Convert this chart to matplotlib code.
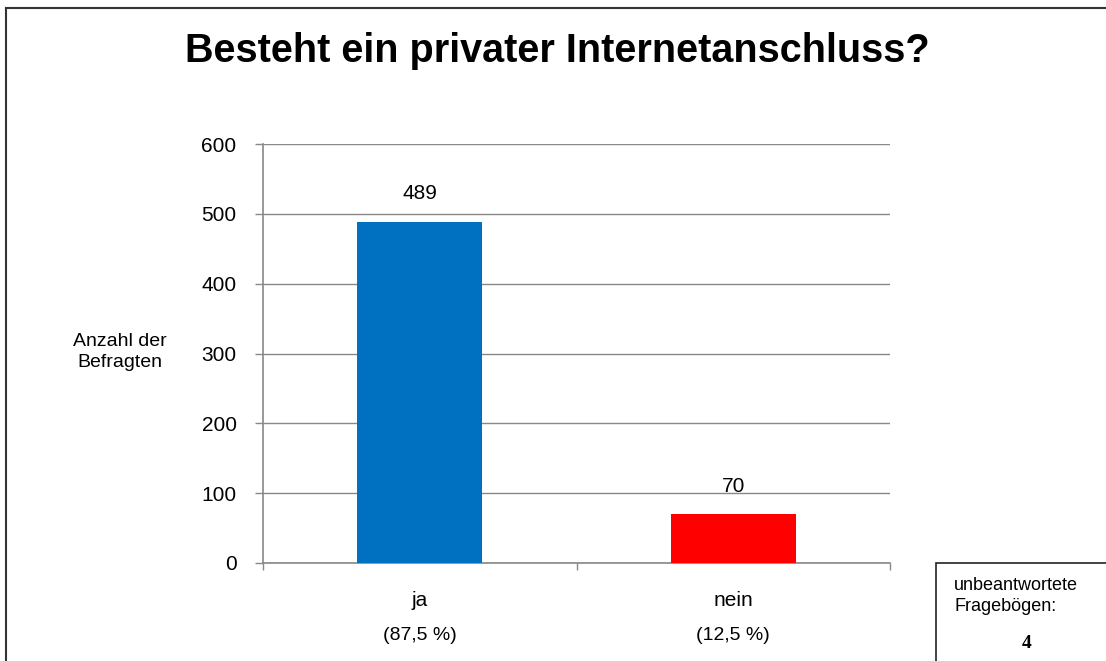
import matplotlib
matplotlib.use('Agg')
import matplotlib.pyplot as plt
from matplotlib.lines import Line2D
from matplotlib.patches import Rectangle

plt.rcParams['font.family'] = ['Liberation Sans', 'DejaVu Sans']

# DATA ------------------------------------------------------------------------
categories = ['ja', 'nein']
percent_labels = ['(87,5 %)', '(12,5 %)']
counts = [489, 70]
bar_colors = ['#0070C0', '#FF0000']
y_ticks = [0, 100, 200, 300, 400, 500, 600]
unanswered = 4

# FIGURE ----------------------------------------------------------------------
W, H = 1106, 661
fig = plt.figure(figsize=(W / 100, H / 100), dpi=100)

ax = fig.add_axes([263 / W, 1 - 563 / H, (890 - 263) / W, (563 - 144) / H])

x = list(range(len(categories)))
ax.bar(x, counts, width=0.4, color=bar_colors, zorder=3)

for xi, v in zip(x, counts):
    ax.text(xi, v + 26, str(v), ha='center', va='bottom', fontsize=15)

ax.set_xlim(-0.5, len(categories) - 0.5)
ax.set_ylim(0, 600)
ax.set_yticks(y_ticks)
ax.tick_params(axis='y', labelsize=15, length=6, width=1, color='#888888',
               pad=13)
ax.yaxis.grid(True, color='#888888', linewidth=1, zorder=0)

# category axis: ticks between categories, labels below
ax.set_xticks([i - 0.5 for i in range(len(categories) + 1)])
ax.set_xticklabels([])
ax.tick_params(axis='x', length=5, width=1, color='#888888')
for xi, cat, pct in zip(x, categories, percent_labels):
    ax.text(xi, -53, cat, ha='center', va='center', fontsize=15)
    ax.text(xi, -104, pct, ha='center', va='center', fontsize=14)

for s in ['top', 'right']:
    ax.spines[s].set_visible(False)
for s in ['left', 'bottom']:
    ax.spines[s].set_color('#888888')
    ax.spines[s].set_linewidth(1.2)

fig.text(120 / W, 1 - 352 / H, 'Anzahl der\nBefragten', ha='center',
         va='center', fontsize=14, linespacing=1.3)

fig.text(557 / W, 1 - 51 / H, 'Besteht ein privater Internetanschluss?',
         ha='center', va='center', fontsize=28.5, fontweight='bold')

# outer frame (left and top edges only visible)
fig.add_artist(Line2D([6 / W, 6 / W], [0, 1 - 8 / H], color='#333333', lw=1.5))
fig.add_artist(Line2D([6 / W, 1], [1 - 8 / H, 1 - 8 / H], color='#333333', lw=1.5))

# box with unanswered questionnaires
fig.add_artist(Rectangle((936 / W, -0.01), (W - 936) / W + 0.01, (H - 563) / H + 0.01,
                         transform=fig.transFigure, facecolor='white',
                         edgecolor='#222222', lw=1.2))
fig.text(954 / W, 1 - 596 / H, 'unbeantwortete\nFragebögen:', ha='left',
         va='center', fontsize=13, linespacing=1.25)
fig.text(1027 / W, 1 - 643 / H, str(unanswered), ha='center', va='center',
         fontsize=14, fontweight='bold', family='Liberation Serif')

fig.savefig('out.png', dpi=100)
